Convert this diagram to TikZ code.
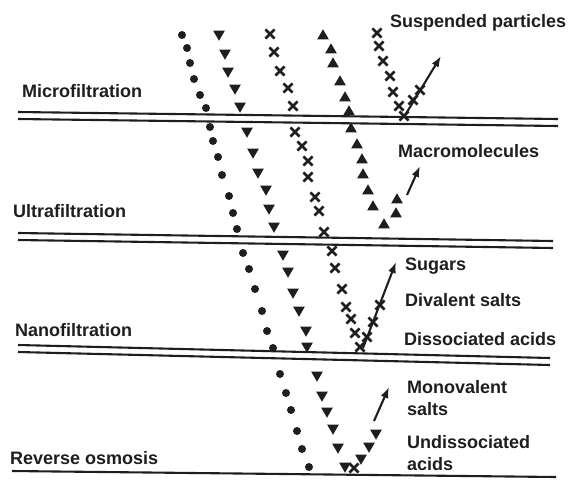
\documentclass[tikz,border=0pt]{standalone}
\usepackage{fontspec}
\setmainfont{Liberation Sans}
\usetikzlibrary{shapes.geometric,shapes.misc,arrows.meta}
\definecolor{ink}{HTML}{1E1E1E}
\tikzset{
  dotm/.style={circle,fill=ink,inner sep=0pt,minimum size=8pt},
  tdown/.style={regular polygon,regular polygon sides=3,shape border rotate=180,fill=ink,inner sep=0pt,minimum size=13.5pt},
  tup/.style={regular polygon,regular polygon sides=3,fill=ink,inner sep=0pt,minimum size=13.5pt},
  xm/.style={cross out,draw=ink,line width=2.6pt,inner sep=0pt,minimum size=6.5pt},
  membrane/.style={draw=ink,line width=2.1pt},
  arr/.style={draw=ink,line width=2.1pt,-{Latex[length=11pt,width=8pt]}},
  lab/.style={font=\bfseries\fontsize{18}{20}\selectfont,text=ink,inner sep=0pt,anchor=base west}
}
\begin{document}
\begin{tikzpicture}[x=1pt,y=-1pt]
\useasboundingbox[fill=white] (0,0) rectangle (569,480);

% membranes
\draw[membrane] (18,112) -- (558,119);
\draw[membrane] (18,119) -- (558,126);
\draw[membrane] (18,233) -- (553,241);
\draw[membrane] (18,240) -- (553,248);
\draw[membrane] (18,345) -- (550,358);
\draw[membrane] (18,352) -- (550,365);
\draw[membrane] (12,471) -- (556,477);

% labels left
\node[lab] (mf) at (22,97) {Microfiltration};
\node[lab] (uf) at (13,217) {Ultrafiltration};
\node[lab] (nf) at (15,336) {Nanofiltration};
\node[lab] (ro) at (10,464) {Reverse osmosis};

% labels right
\node[lab] (sp) at (390,27) {Suspended particles};
\node[lab] (mm) at (398,157) {Macromolecules};
\node[lab] (sg) at (405,270) {Sugars};
\node[lab] (ds) at (405,306) {Divalent salts};
\node[lab] (da) at (404,345) {Dissociated acids};
\node[lab] (mv1) at (407,393) {Monovalent};
\node[lab] (mv2) at (407,415) {salts};
\node[lab] (ua1) at (407,448) {Undissociated};
\node[lab] (ua2) at (407,470) {acids};

% circles
\foreach \p [count=\i] in {(182,35),(187,48),(190,63),(194,79),(200,95),(206,108),
  (210,127),(213,141),(218,157),(222,175),(229,196),(233,213),(237,229),
  (243,253),(249,269),(255,289),(262,311),(267,331),(273,348),
  (280,374),(286,393),(291,410),(297,431),(302,449),(309,467)}
  \node[dotm] (c\i) at \p {};

% inverted triangles
\foreach \p [count=\i] in {(219,34),(225,53),(228,71),(235,88),(240,106),
  (247,131),(253,152),(258,172),(266,189),(269,208),(274,226),
  (283,254),(288,271),(293,292),(299,310),(306,330),(307,346),
  (317,375),(322,395),(327,411),(333,428),(338,447),(345,466),
  (361,458),(369,446),(376,433)}
  \node[tdown] (v\i) at \p {};

% crosses, first column
\foreach \p [count=\i] in {(270,34),(274,52),(280,71),(288,88),(293,106),
  (295,132),(302,146),(308,161),(308,177),(315,197),(319,211),(324,232),
  (332,251),(335,268),(342,289),(346,307),(351,319),(355,333),(360,347),
  (367,337),(373,322),(380,305)}
  \node[xm] (x\i) at \p {};
\node[xm] (xb) at (354,468) {};

% upright triangles
\foreach \p [count=\i] in {(323,36),(331,50),(333,64),(340,82),(345,98),(349,112),
  (351,129),(357,145),(362,160),(363,175),(368,191),(373,207),(384,225),
  (396,214),(397,200)}
  \node[tup] (t\i) at \p {};

% crosses, second column
\foreach \p [count=\i] in {(377,33),(379,46),(383,61),(390,76),(393,92),(399,106),(404,116),
  (413,100),(420,90)}
  \node[xm] (y\i) at \p {};

% arrows
\coordinate (s0) at (404,117); \coordinate (s1) at (441,56);
\draw[arr] (s0) -- (s1);
\coordinate (m0) at (407,195); \coordinate (m1) at (420,166);
\draw[arr] (m0) -- (m1);
\coordinate (g0) at (363,348); \coordinate (g1) at (396,262);
\draw[arr] (g0) -- (g1);
\coordinate (r0) at (374,421); \coordinate (r1) at (389,387);
\draw[arr] (r0) -- (r1);
\end{tikzpicture}
\end{document}
